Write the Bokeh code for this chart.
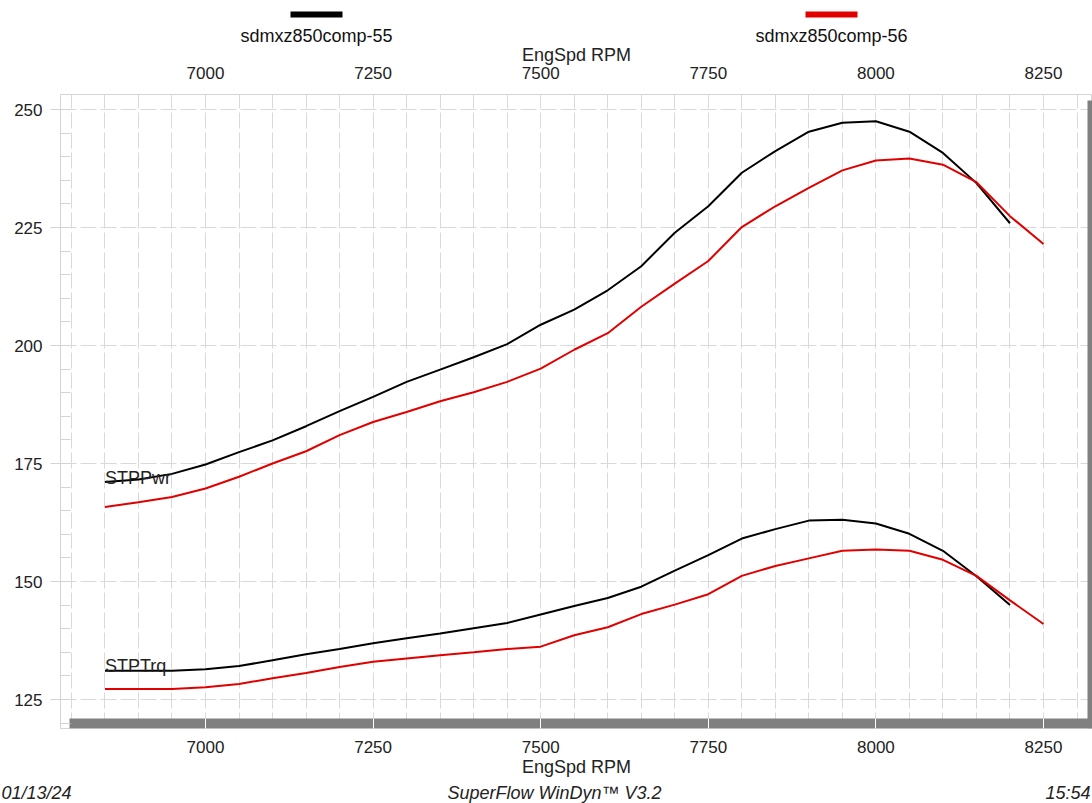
from bokeh.plotting import figure
from bokeh.layouts import column
from bokeh.models import Range1d, LinearAxis, FixedTicker, SingleIntervalTicker, Label
from bokeh.core.properties import value
from bokeh.embed import file_html
from bokeh.resources import INLINE

# ---------------- data ----------------
rpm55 = [6850, 6900, 6950, 7000, 7050, 7100, 7150, 7200, 7250, 7300, 7350, 7400, 7450, 7500,
         7550, 7600, 7650, 7700, 7750, 7800, 7850, 7900, 7950, 8000, 8050, 8100, 8150, 8200]
pwr55 = [171.1, 171.6, 172.8, 174.8, 177.4, 179.9, 182.9, 186.1, 189.1, 192.3, 194.9, 197.5, 200.3, 204.4,
         207.6, 211.7, 216.8, 223.9, 229.5, 236.6, 241.2, 245.3, 247.2, 247.5, 245.3, 240.8, 234.4, 225.9]
trq55 = [131.1, 131.1, 131.1, 131.4, 132.1, 133.3, 134.6, 135.7, 136.9, 138.0, 139.0, 140.1, 141.2, 143.0,
         144.8, 146.5, 148.9, 152.3, 155.6, 159.1, 161.1, 162.9, 163.1, 162.3, 160.1, 156.5, 151.1, 145.0]

rpm56 = [6850, 6900, 6950, 7000, 7050, 7100, 7150, 7200, 7250, 7300, 7350, 7400, 7450, 7500,
         7550, 7600, 7650, 7700, 7750, 7800, 7850, 7900, 7950, 8000, 8050, 8100, 8150, 8200, 8250]
pwr56 = [165.8, 166.8, 167.9, 169.7, 172.2, 175.0, 177.6, 181.0, 183.8, 185.9, 188.2, 190.1, 192.3, 195.1,
         199.1, 202.6, 208.2, 213.1, 217.9, 225.1, 229.5, 233.4, 237.1, 239.2, 239.6, 238.3, 234.6, 227.4, 221.5]
trq56 = [127.2, 127.2, 127.2, 127.6, 128.3, 129.5, 130.6, 131.9, 133.0, 133.7, 134.4, 135.0, 135.7, 136.2,
         138.6, 140.3, 143.1, 145.1, 147.3, 151.2, 153.3, 154.9, 156.5, 156.8, 156.5, 154.6, 151.2, 146.0, 141.0]

series_names = ["sdmxz850comp-55", "sdmxz850comp-56"]
series_colors = ["#000000", "#e00000"]
x_ticks = [7000, 7250, 7500, 7750, 8000, 8250]
y_ticks = [125, 150, 175, 200, 225, 250]
y_minor = [v for v in range(120, 255, 5)]
axis_title = "EngSpd RPM"
curve_labels = ["STPPwr", "STPTrq"]
footer_texts = ["01/13/24", "SuperFlow WinDyn\u2122 V3.2", "15:54"]

# ---------------- layout (page pixels) ----------------
W = 1092
HEAD_H = 18
FOOT_H = 23
MAIN_H = 803 - HEAD_H - FOOT_H
F_LEFT, F_RIGHT, F_TOP, F_BOT = 60, 1092, 94, 728      # frame incl. shadow strip
BT = F_TOP - HEAD_H
BB = (HEAD_H + MAIN_H) - F_BOT
XS = 0.6704     # px per rpm
YS = 4.72       # px per unit
X0 = 7000 - (205 - F_LEFT) / XS
X1 = X0 + (F_RIGHT - F_LEFT) / XS
Y1 = 250 + (109 - F_TOP) / YS
Y0 = Y1 - (F_BOT - F_TOP) / YS

def dx(px):
    return X0 + (px - F_LEFT) / XS

def dy(py):
    return Y1 - (py - F_TOP) / YS

FONT = "Liberation Sans"
FS = "17px"
FS_BIG = "18px"
TXT = "#222222"
GRID = "#d9d9d9"
EDGE = "#d4d4d4"
SHADOW = "#808080"

def strip(h, y_top, left):
    # data coordinates of these strips are page pixels
    f = figure(width=W, height=h, x_range=Range1d(left, W), y_range=Range1d(y_top + h, y_top),
               x_axis_location=None, y_axis_location=None,
               output_backend="svg", toolbar_location=None, frame_align=False,
               min_border_left=left, min_border_right=0, min_border_top=0, min_border_bottom=0)
    f.grid.visible = False
    f.outline_line_color = None
    return f

# ---------------- header (legend swatches) ----------------
head = strip(HEAD_H, 0, F_LEFT)
leg_cx = [316, 831]
head.quad(left=[c - 26 for c in leg_cx], right=[c + 26 for c in leg_cx],
          top=[11, 11], bottom=[17, 17], fill_color=series_colors, line_color=None)

# ---------------- main chart ----------------
p = figure(width=W, height=MAIN_H, x_range=Range1d(X0, X1), y_range=Range1d(Y0, Y1),
           output_backend="svg", toolbar_location=None, frame_align=False,
           min_border_left=F_LEFT, min_border_right=0, min_border_top=BT, min_border_bottom=BB)
p.outline_line_color = EDGE

p.xgrid.ticker = SingleIntervalTicker(interval=50, num_minor_ticks=0)
p.xgrid.grid_line_color = GRID
p.xgrid.grid_line_dash = "16 4"
p.ygrid.ticker = FixedTicker(ticks=y_ticks)
p.ygrid.grid_line_color = GRID
p.ygrid.grid_line_dash = "16 4"

ya = p.yaxis[0]
ya.ticker = FixedTicker(ticks=y_ticks, minor_ticks=y_minor)
ya.bounds = (dy(718), Y1)
ya.axis_line_color = EDGE
ya.major_tick_line_color = EDGE
ya.major_tick_out = 10
ya.major_tick_in = 0
ya.minor_tick_line_color = EDGE
ya.minor_tick_in = 10
ya.minor_tick_out = 0
ya.major_label_standoff = 8
ya.major_label_text_font = FONT
ya.major_label_text_font_size = FS
ya.major_label_text_color = TXT

xb = p.xaxis[0]
xb.ticker = FixedTicker(ticks=x_ticks)
xb.axis_line_color = None
xb.major_tick_line_color = "white"
xb.major_tick_out = 0
xb.major_tick_in = 10
xb.minor_tick_line_color = None
xb.major_label_standoff = 12
xb.major_label_text_font = FONT
xb.major_label_text_font_size = FS
xb.major_label_text_color = TXT
xb.axis_label = axis_title
xb.axis_label_standoff = 1
xb.axis_label_text_font = FONT
xb.axis_label_text_font_size = FS_BIG
xb.axis_label_text_font_style = "normal"
xb.axis_label_text_color = TXT

xt = LinearAxis(ticker=FixedTicker(ticks=x_ticks), axis_label=axis_title)
xt.axis_line_color = None
xt.major_tick_line_color = None
xt.minor_tick_line_color = None
xt.major_tick_out = 0
xt.major_tick_in = 0
xt.major_label_standoff = 16
xt.major_label_text_font = FONT
xt.major_label_text_font_size = FS
xt.major_label_text_color = TXT
xt.axis_label_standoff = -1
xt.axis_label_text_font = FONT
xt.axis_label_text_font_size = FS_BIG
xt.axis_label_text_font_style = "normal"
xt.axis_label_text_color = TXT
p.add_layout(xt, "above")

# legend names: an outer top axis whose two ticks sit under the swatches
leg_pos = [dx(c) for c in leg_cx]
xl = LinearAxis(ticker=FixedTicker(ticks=leg_pos),
                major_label_overrides={pos: name for pos, name in zip(leg_pos, series_names)})
xl.axis_line_color = None
xl.major_tick_line_color = None
xl.minor_tick_line_color = None
xl.major_tick_out = 0
xl.major_tick_in = 0
xl.major_label_standoff = -4
xl.major_label_text_font = FONT
xl.major_label_text_font_size = FS_BIG
xl.major_label_text_color = "#111111"
p.add_layout(xl, "above")

# 3-D style shadow strips along bottom and right of the plot area
p.quad(left=[dx(69), dx(1087)], right=[X1, X1], top=[dy(718), dy(100)], bottom=[Y0, Y0],
       fill_color=SHADOW, line_color=None)

# curves
p.line(rpm55, pwr55, line_color=series_colors[0], line_width=2)
p.line(rpm56, pwr56, line_color=series_colors[1], line_width=2)
p.line(rpm55, trq55, line_color=series_colors[0], line_width=2)
p.line(rpm56, trq56, line_color=series_colors[1], line_width=2)

p.add_layout(Label(x=rpm55[0], y=pwr55[0] + 0.9, text=curve_labels[0], text_font=FONT,
                   text_font_size=FS_BIG, text_color=TXT, text_baseline="alphabetic"))
p.add_layout(Label(x=rpm55[0], y=trq55[0] + 0.9, text=curve_labels[1], text_font=FONT,
                   text_font_size=FS_BIG, text_color=TXT, text_baseline="alphabetic"))

# ---------------- footer ----------------
foot = strip(FOOT_H, 803 - FOOT_H, 0)
foot.text(x=[1, 554, 1045], y=[792, 792, 792], text=footer_texts, text_font=value(FONT),
          text_font_size=value(FS_BIG), text_font_style="italic", text_color=TXT,
          text_align=["left", "center", "left"], text_baseline="middle")

layout = column(head, p, foot, spacing=0)
open("out.html", "w").write(file_html(layout, INLINE))
